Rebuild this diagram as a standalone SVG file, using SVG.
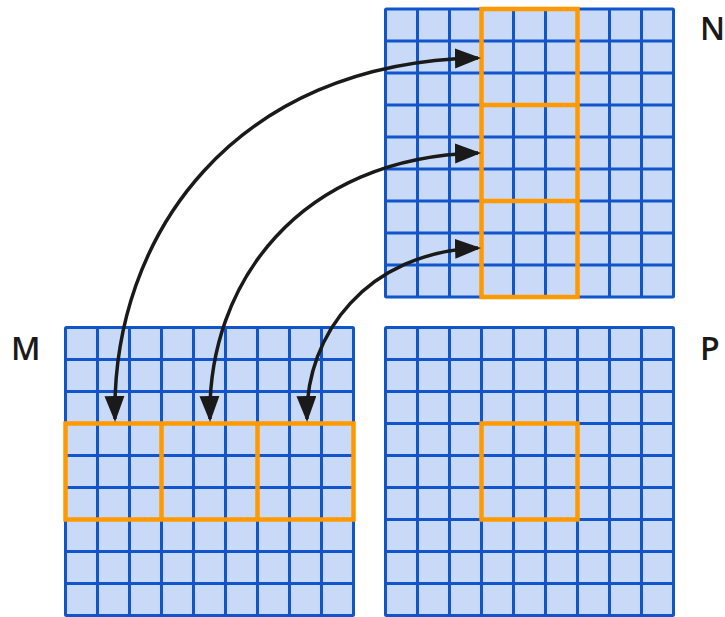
<svg xmlns="http://www.w3.org/2000/svg" xmlns:xlink="http://www.w3.org/1999/xlink" width="725" height="617" viewBox="0 0 725 617">
  <style>
    .cell { fill: #C9DAF8; stroke: #1155CC; stroke-width: 3; }
    .gl { fill: none; stroke: #1155CC; stroke-width: 3; }
    .hl { fill: none; stroke: #FF9900; stroke-width: 4.5; stroke-linejoin: miter; }
    .arr { fill: none; stroke: #1A1A1A; stroke-width: 3.5; }
    .lbl { font-family: "Open Sans", "Liberation Sans", sans-serif; font-weight: 600; font-size: 32px; fill: #1A1A1A; }
  </style>
  <defs>
    <g id="grid">
      <rect class="cell" x="0" y="0" width="288" height="288" rx="1"/>
      <path class="gl" d="M32,0V288M64,0V288M96,0V288M128,0V288M160,0V288M192,0V288M224,0V288M256,0V288M0,32H288M0,64H288M0,96H288M0,128H288M0,160H288M0,192H288M0,224H288M0,256H288"/>
    </g>
    <marker id="ah" markerUnits="userSpaceOnUse" markerWidth="28" markerHeight="22" viewBox="0 0 28 22" refX="23" refY="10" orient="auto-start-reverse">
      <path d="M0,0L26,10L0,20z" fill="#1A1A1A"/>
    </marker>
  </defs>

  <g id="N">
    <use xlink:href="#grid" x="385.5" y="9"/>
    <rect class="hl" x="481.5" y="9" width="96" height="288"/>
    <path class="hl" d="M481.5,105H577.5M481.5,201H577.5"/>
    <text class="lbl" x="700" y="40">N</text>
  </g>

  <g id="M">
    <use xlink:href="#grid" x="65.5" y="327.5"/>
    <rect class="hl" x="65.5" y="423.5" width="288" height="96"/>
    <path class="hl" d="M161.5,423.5V519.5M257.5,423.5V519.5"/>
    <text class="lbl" x="11" y="360">M</text>
  </g>

  <g id="P">
    <use xlink:href="#grid" x="385.5" y="327.5"/>
    <rect class="hl" x="481.5" y="423.5" width="96" height="96"/>
    <text class="lbl" x="700" y="360">P</text>
  </g>

  <g id="connectors">
    <path class="arr" marker-start="url(#ah)" marker-end="url(#ah)" d="M115,419 C111,235 235,62 478,58"/>
    <path class="arr" marker-start="url(#ah)" marker-end="url(#ah)" d="M210,419 C207,283 300,157 478,153"/>
    <path class="arr" marker-start="url(#ah)" marker-end="url(#ah)" d="M307,419 C305,334 368,252 478,248"/>
  </g>
</svg>
